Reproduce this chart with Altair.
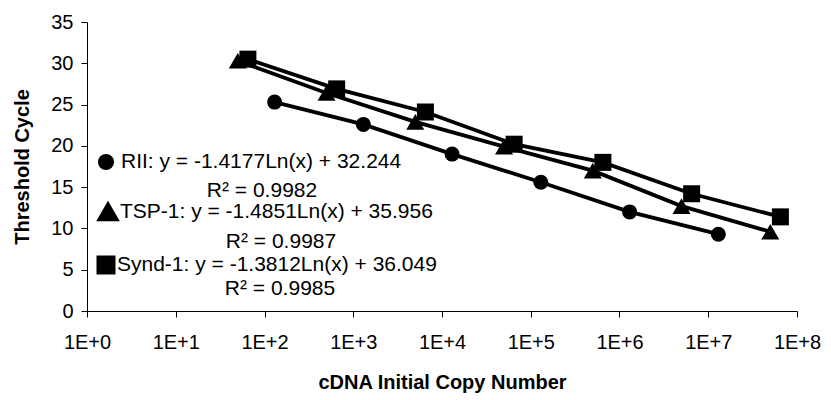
import altair as alt
import pandas as pd

# Data
rii_x = [130, 1300, 13000, 130000, 1300000, 13000000]
rii_y = [25.3, 22.6, 19.0, 15.6, 12.0, 9.3]
tsp_x = [50, 500, 5000, 50000, 500000, 5000000, 50000000]
tsp_y = [30.3, 26.4, 22.9, 19.9, 17.0, 12.7, 9.6]
synd_x = [65, 650, 6500, 65000, 650000, 6500000, 65000000]
synd_y = [30.5, 26.9, 24.1, 20.2, 18.0, 14.2, 11.4]

x_ticks = [1, 10, 100, 1000, 10000, 100000, 1000000, 10000000, 100000000]
y_ticks = [0, 5, 10, 15, 20, 25, 30, 35]

eq_lines = ["RII: y = -1.4177Ln(x) + 32.244", "TSP-1: y = -1.4851Ln(x) + 35.956", "Synd-1: y = -1.3812Ln(x) + 36.049"]
r2_lines = ["R\u00b2 = 0.9982", "R\u00b2 = 0.9987", "R\u00b2 = 0.9985"]
shapes = ["circle", "triangle-up", "square"]
sizes = [225, 324, 289]
leg_sizes = [260, 560, 361]

series = [("RII", rii_x, rii_y), ("TSP-1", tsp_x, tsp_y), ("Synd-1", synd_x, synd_y)]

FONT = "Liberation Sans"

xscale = alt.Scale(type="log", domain=[1, 100000000], nice=False)
yscale = alt.Scale(domain=[0, 35], nice=False)

xaxis = alt.Axis(values=x_ticks, labelExpr="'1E+' + round(log(datum.value)/log(10))",
                 title="cDNA Initial Copy Number", grid=False, domainColor="black",
                 tickColor="black", tickSize=6, labelFontSize=20, labelFont=FONT,
                 labelColor="black", labelPadding=15, titleFont=FONT, titleFontSize=20,
                 titleFontWeight="bold", titleColor="black", titlePadding=20,
                 labelFlush=False, labelOverlap=False)
yaxis = alt.Axis(values=y_ticks, title="Threshold Cycle", grid=False, domainColor="black",
                 tickColor="black", tickSize=6, labelFontSize=20, labelFont=FONT,
                 labelColor="black", labelPadding=8, titleFont=FONT, titleFontSize=20,
                 titleFontWeight="bold", titleColor="black", titlePadding=18)

layers = []
for i, (name, xs, ys) in enumerate(series):
    df = pd.DataFrame({"x": xs, "y": ys, "s": name})
    base = alt.Chart(df)
    line = base.mark_line(color="black", strokeWidth=3.8).encode(
        x=alt.X("x:Q", scale=xscale, axis=xaxis),
        y=alt.Y("y:Q", scale=yscale, axis=yaxis),
    )
    pts = base.mark_point(shape=shapes[i], filled=True, color="black", opacity=1,
                          size=sizes[i]).encode(
        x=alt.X("x:Q", scale=xscale, axis=xaxis),
        y=alt.Y("y:Q", scale=yscale, axis=yaxis))
    layers += [line, pts]

# legend-like text inside plot
leg_marker_pos = [(19, 140), (21, 189), (19, 243)]
eq_pos = [(34, 140), (33, 190), (30, 243)]
r2_pos = [(175, 169), (194, 220), (193, 267)]
for i in range(3):
    d = pd.DataFrame({"t": [eq_lines[i]], "r": [r2_lines[i]]})
    layers.append(alt.Chart(d).mark_point(shape=shapes[i], filled=True, color="black",
                                          opacity=1, size=leg_sizes[i]).encode(
        x=alt.value(leg_marker_pos[i][0]), y=alt.value(leg_marker_pos[i][1])))
    layers.append(alt.Chart(d).mark_text(align="left", baseline="middle", font=FONT,
                                         fontSize=21, color="black").encode(
        text="t:N", x=alt.value(eq_pos[i][0]), y=alt.value(eq_pos[i][1])))
    layers.append(alt.Chart(d).mark_text(align="center", baseline="middle", font=FONT,
                                         fontSize=21, color="black").encode(
        text="r:N", x=alt.value(r2_pos[i][0]), y=alt.value(r2_pos[i][1])))

chart = alt.layer(*layers).properties(
    width=710, height=289,
    autosize=alt.AutoSizeParams(type="none"),
    padding={"left": 79, "top": 14, "right": 26, "bottom": 86},
    background="white",
).configure_view(stroke=None)

chart.save("out.html", embed_options={"renderer": "svg", "actions": False})
